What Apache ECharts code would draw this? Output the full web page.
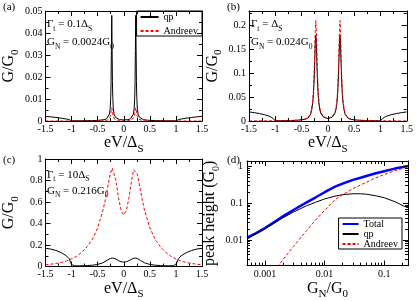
<!DOCTYPE html>
<html><head><meta charset="utf-8">
<script src="https://cdn.jsdelivr.net/npm/echarts@6/dist/echarts.min.js"></script>
<style>html,body{margin:0;padding:0;background:#fff}#c{width:416px;height:301px}</style>
</head><body><div id="c"></div>
<script>
// ---------- data ----------
const qpA = [[-1.5,0.0021],[-1.4,0.0019],[-1.3,0.0016],[-1.2,0.0013],[-1.1,0.0009],[-1.05,0.0006],[-1.0,0.0001],[-0.8,0.0001],[-0.6,0.0002],[-0.48,0.0003],[-0.38,0.0006],[-0.33,0.001],[-0.3,0.0017],[-0.275,0.0031],[-0.26,0.0056],[-0.25,0.0106],[-0.243,0.018],[-0.237,0.032],[-0.23,0.048],[-0.223,0.032],[-0.217,0.018],[-0.21,0.0106],[-0.2,0.0056],[-0.185,0.0031],[-0.16,0.0017],[-0.13,0.001],[-0.08,0.0006],[0,0.0005],[0.08,0.0006],[0.13,0.001],[0.16,0.0017],[0.185,0.0031],[0.2,0.0056],[0.21,0.0106],[0.217,0.018],[0.223,0.032],[0.23,0.048],[0.237,0.032],[0.243,0.018],[0.25,0.0106],[0.26,0.0056],[0.275,0.0031],[0.3,0.0017],[0.33,0.001],[0.38,0.0006],[0.48,0.0003],[0.6,0.0002],[0.8,0.0001],[1.0,0.0001],[1.05,0.0006],[1.1,0.0009],[1.2,0.0013],[1.3,0.0016],[1.4,0.0019],[1.5,0.0021]];
const andreevA = [[-1.5,0],[-0.6,0],[-0.38,0.0001],[-0.31,0.0004],[-0.28,0.0009],[-0.26,0.002],[-0.25,0.0032],[-0.24,0.0048],[-0.23,0.006],[-0.22,0.0048],[-0.21,0.0032],[-0.2,0.002],[-0.18,0.0009],[-0.15,0.0004],[-0.08,0.0001],[0,0.0001],[0.08,0.0001],[0.15,0.0004],[0.18,0.0009],[0.2,0.002],[0.21,0.0032],[0.22,0.0048],[0.23,0.006],[0.24,0.0048],[0.25,0.0032],[0.26,0.002],[0.28,0.0009],[0.31,0.0004],[0.38,0.0001],[0.6,0],[1.5,0]];
const qpB = [[-1.5,0.019],[-1.4,0.0175],[-1.3,0.0155],[-1.2,0.013],[-1.1,0.0095],[-1.05,0.006],[-1.0,0.0005],[-0.9,0.0006],[-0.75,0.0009],[-0.6,0.0015],[-0.5,0.0025],[-0.42,0.004],[-0.38,0.0062],[-0.33,0.0135],[-0.31,0.022],[-0.29,0.036],[-0.275,0.055],[-0.26,0.09],[-0.25,0.125],[-0.24,0.162],[-0.23,0.18],[-0.22,0.162],[-0.21,0.125],[-0.2,0.09],[-0.185,0.055],[-0.17,0.036],[-0.15,0.022],[-0.13,0.015],[-0.08,0.008],[0,0.005],[0.08,0.008],[0.13,0.015],[0.15,0.022],[0.17,0.036],[0.185,0.055],[0.2,0.09],[0.21,0.125],[0.22,0.162],[0.23,0.18],[0.24,0.162],[0.25,0.125],[0.26,0.09],[0.275,0.055],[0.29,0.036],[0.31,0.022],[0.33,0.0135],[0.38,0.0062],[0.42,0.004],[0.5,0.0025],[0.6,0.0015],[0.75,0.0009],[0.9,0.0006],[1.0,0.0005],[1.05,0.006],[1.1,0.0095],[1.2,0.013],[1.3,0.0155],[1.4,0.0175],[1.5,0.019]];
const andreevB = [[-1.5,0.0002],[-1.2,0.0003],[-0.9,0.0006],[-0.75,0.0009],[-0.6,0.0016],[-0.5,0.0027],[-0.42,0.0045],[-0.38,0.007],[-0.33,0.015],[-0.31,0.025],[-0.29,0.041],[-0.275,0.063],[-0.26,0.104],[-0.25,0.145],[-0.24,0.19],[-0.23,0.21],[-0.22,0.19],[-0.21,0.145],[-0.2,0.104],[-0.185,0.063],[-0.17,0.041],[-0.15,0.025],[-0.13,0.017],[-0.08,0.009],[0,0.0055],[0.08,0.009],[0.13,0.017],[0.15,0.025],[0.17,0.041],[0.185,0.063],[0.2,0.104],[0.21,0.145],[0.22,0.19],[0.23,0.21],[0.24,0.19],[0.25,0.145],[0.26,0.104],[0.275,0.063],[0.29,0.041],[0.31,0.025],[0.33,0.015],[0.38,0.007],[0.42,0.0045],[0.5,0.0027],[0.6,0.0016],[0.75,0.0009],[0.9,0.0006],[1.2,0.0003],[1.5,0.0002]];
const qpC = [[-1.5,0.17],[-1.4,0.163],[-1.3,0.15],[-1.2,0.13],[-1.1,0.1],[-1.05,0.075],[-1.0,0.02],[-0.95,0.008],[-0.85,0.007],[-0.7,0.01],[-0.6,0.013],[-0.5,0.02],[-0.4,0.035],[-0.32,0.058],[-0.26,0.075],[-0.22,0.08],[-0.17,0.074],[-0.1,0.055],[-0.05,0.045],[0,0.042],[0.05,0.045],[0.1,0.055],[0.17,0.074],[0.22,0.08],[0.26,0.075],[0.32,0.058],[0.4,0.035],[0.5,0.02],[0.6,0.013],[0.7,0.01],[0.85,0.007],[0.95,0.008],[1.0,0.02],[1.05,0.075],[1.1,0.1],[1.2,0.13],[1.3,0.15],[1.4,0.163],[1.5,0.17]];
const andreevC = [[-1.5,0.017],[-1.4,0.022],[-1.3,0.029],[-1.2,0.038],[-1.1,0.052],[-1.0,0.072],[-0.9,0.097],[-0.8,0.135],[-0.7,0.185],[-0.6,0.255],[-0.5,0.36],[-0.4,0.52],[-0.35,0.63],[-0.3,0.76],[-0.26,0.86],[-0.22,0.915],[-0.19,0.9],[-0.15,0.8],[-0.1,0.64],[-0.05,0.52],[0,0.48],[0.05,0.52],[0.1,0.64],[0.15,0.8],[0.19,0.9],[0.22,0.915],[0.26,0.86],[0.3,0.76],[0.35,0.63],[0.4,0.52],[0.5,0.36],[0.6,0.255],[0.7,0.185],[0.8,0.135],[0.9,0.097],[1.0,0.072],[1.1,0.052],[1.2,0.038],[1.3,0.029],[1.4,0.022],[1.5,0.017]];
const gnD = [0.0005,0.0007,0.001,0.0015,0.002,0.003,0.005,0.007,0.01,0.015,0.02,0.03,0.04,0.05,0.07,0.1,0.15,0.216,0.25];
const totalD = [0.0115,0.015,0.021,0.032,0.0436,0.065,0.105,0.142,0.198,0.28,0.34,0.43,0.49,0.545,0.64,0.74,0.87,0.98,1.02];
const qpD = [0.0105,0.0145,0.02,0.03,0.04,0.057,0.085,0.105,0.13,0.155,0.17,0.18,0.18,0.175,0.16,0.14,0.11,0.082,0.075];
const andreevD = [0.00023,0.00045,0.0009,0.0016,0.0029,0.0066,0.018,0.034,0.064,0.125,0.17,0.25,0.31,0.37,0.48,0.6,0.76,0.9,0.95];
const dXTicks = [0.001,0.01,0.1];
const dXMinor = [0.0006,0.0007,0.0008,0.0009,0.002,0.003,0.004,0.005,0.006,0.007,0.008,0.009,0.02,0.03,0.04,0.05,0.06,0.07,0.08,0.09,0.2];
const dYTicks = [0.01,0.1,1];
const dYMinor = [0.003,0.004,0.005,0.006,0.007,0.008,0.009,0.02,0.03,0.04,0.05,0.06,0.07,0.08,0.09,0.2,0.3,0.4,0.5,0.6,0.7,0.8,0.9];

// ---------- styling ----------
const serif = '"Liberation Serif","Times New Roman",serif';
const BLACK = '#000', RED = '#ff0000', BLUE = '#0000ff';
function rich(big, small, lh, slh) {
  return {
    n: {fontFamily: serif, fontSize: big, color: BLACK, lineHeight: lh || Math.round(big * 1.45)},
    s: {fontFamily: serif, fontSize: small, color: BLACK, lineHeight: slh || (small + 1), verticalAlign: 'bottom'}
  };
}
const ls = {color: BLACK, width: 1};
function linAxis(g, dim, pos, min, max, interval, opts) {
  const main = (pos === 'bottom' || pos === 'left');
  const a = {
    gridIndex: g, type: 'value', position: pos, min: min, max: max, interval: interval, z: 5,
    axisLine: {show: true, onZero: false, lineStyle: ls},
    axisTick: {show: true, inside: true, length: 5, lineStyle: ls},
    minorTick: {show: true, splitNumber: 2, length: 3, lineStyle: ls},
    splitLine: {show: false},
    axisLabel: {show: main, color: BLACK, fontFamily: serif, fontSize: 10, margin: 3}
  };
  return Object.assign(a, opts || {});
}
function logAxis(g, pos, min, max, ticks, isMinor, opts) {
  const main = (pos === 'bottom' || pos === 'left') && !isMinor;
  const a = {
    gridIndex: g, type: 'log', logBase: 10, position: pos, min: min, max: max, z: 5,
    axisLine: {show: !isMinor, onZero: false, lineStyle: ls},
    axisTick: {show: true, inside: true, length: isMinor ? 3 : 5, lineStyle: ls, customValues: ticks},
    minorTick: {show: false},
    splitLine: {show: false},
    axisLabel: {show: main, color: BLACK, fontFamily: serif, fontSize: 10, margin: 4, customValues: ticks}
  };
  return Object.assign(a, opts || {});
}
const eVName = {name: '{n|eV/Δ}{s|S}', nameLocation: 'middle', nameGap: 7, nameTextStyle: {rich: rich(16, 11)}};
const GName = {name: '{n|G/G}{s|0}', nameLocation: 'middle', nameGap: 25, nameTextStyle: {rich: rich(16, 11)}};

const xAxis = [
  linAxis(0, 'x', 'bottom', -1.5, 1.5, 0.5, eVName),
  linAxis(0, 'x', 'top', -1.5, 1.5, 0.5),
  linAxis(1, 'x', 'bottom', -1.5, 1.5, 0.5, eVName),
  linAxis(1, 'x', 'top', -1.5, 1.5, 0.5),
  linAxis(2, 'x', 'bottom', -1.5, 1.5, 0.5, eVName),
  linAxis(2, 'x', 'top', -1.5, 1.5, 0.5),
  logAxis(3, 'bottom', 0.0005, 0.25, dXTicks, false, {name: '{n|G}{s|N}{n|/G}{s|0}', nameLocation: 'middle', nameGap: 7, nameTextStyle: {rich: rich(16, 11)}}),
  logAxis(3, 'bottom', 0.0005, 0.25, dXMinor, true),
  logAxis(3, 'top', 0.0005, 0.25, dXTicks, false),
  logAxis(3, 'top', 0.0005, 0.25, dXMinor, true)
];
const yAxis = [
  linAxis(0, 'y', 'left', 0, 0.05, 0.01, GName),
  linAxis(0, 'y', 'right', 0, 0.05, 0.01),
  linAxis(1, 'y', 'left', 0, 0.23, 0.05, Object.assign({}, GName)),
  linAxis(1, 'y', 'right', 0, 0.23, 0.05),
  linAxis(2, 'y', 'left', 0, 1, 0.2, GName),
  linAxis(2, 'y', 'right', 0, 1, 0.2),
  logAxis(3, 'left', 0.002, 1.4, dYTicks, false, {name: '{n|peak height (G}{s|0}{n|)}', nameLocation: 'middle', nameGap: 26, nameTextStyle: {rich: rich(16, 10)}}),
  logAxis(3, 'left', 0.002, 1.4, dYMinor, true),
  logAxis(3, 'right', 0.002, 1.4, dYTicks, false),
  logAxis(3, 'right', 0.002, 1.4, dYMinor, true)
];
yAxis[2].axisLabel.showMaxLabel = false;

function line(name, data, xi, yi, color, dashed, width) {
  return {
    name: name, type: 'line', data: data, xAxisIndex: xi, yAxisIndex: yi,
    showSymbol: false, symbol: 'none', smooth: false, z: 2,
    lineStyle: {color: color, width: width || 1, type: dashed ? [3, 2] : 'solid'},
    itemStyle: {color: color}
  };
}
const zip = (xs, ys) => xs.map((x, i) => [x, ys[i]]);
const series = [
  line('qp', qpA, 0, 0, BLACK, false),
  line('Andreev', andreevA, 0, 0, RED, true),
  line('qp', qpB, 2, 2, BLACK, false),
  line('Andreev', andreevB, 2, 2, RED, true),
  line('qp', qpC, 4, 4, BLACK, false),
  line('Andreev', andreevC, 4, 4, RED, true),
  line('Total', zip(gnD, totalD), 6, 6, BLUE, false, 2.5),
  line('qp', zip(gnD, qpD), 6, 6, BLACK, false),
  line('Andreev', zip(gnD, andreevD), 6, 6, RED, true)
];

const legendBase = {
  orient: 'vertical', selectedMode: false, itemHeight: 8,
  itemStyle: {opacity: 0, borderWidth: 0},
  borderColor: BLACK, borderWidth: 1, borderRadius: 0, backgroundColor: '#fff',
  textStyle: {fontFamily: serif, fontSize: 10, color: BLACK, lineHeight: 10}
};
const legend = [
  Object.assign({}, legendBase, {data: ['qp', 'Andreev'], right: 214, top: 11, itemWidth: 18, itemGap: 4, padding: [1, 4, 0, 3]}),
  Object.assign({}, legendBase, {data: ['Total', 'qp', 'Andreev'], right: 14, top: 218, itemWidth: 16, itemGap: 0, padding: [1, 4, 0, 3]})
];

// two-line annotation blocks (rich text), placed by their top-left corner
function block(x, y, s, lh) {
  return {type: 'text', x: x, y: y, z: 10,
    style: {text: s, rich: rich(11, 7.5, lh, lh - 6), verticalAlign: 'top', align: 'left'}};
}
function label(x, y, s) {
  return {type: 'text', x: x, y: y, z: 10, style: {text: s, font: '11px ' + serif, fill: BLACK, verticalAlign: 'middle', align: 'left'}};
}
const graphic = [
  label(3, 7, '(a)'),
  label(227, 7, '(b)'),
  label(3, 160, '(c)'),
  label(227, 160, '(d)'),
  block(47, 15, '{n|Γ}{s|t}{n| = 0.1Δ}{s|S}\n{n|G}{s|N}{n| = 0.0024G}{s|0}', 18),
  block(251, 15, '{n|Γ}{s|t}{n| = Δ}{s|S}\n{n|G}{s|N}{n| = 0.024G}{s|0}', 18),
  block(47, 167, '{n|Γ}{s|t}{n| = 10Δ}{s|S}\n{n|G}{s|N}{n| = 0.216G}{s|0}', 16)
];

const chart = echarts.init(document.getElementById('c'), null, {renderer: 'canvas'});
chart.setOption({
  animation: false,
  backgroundColor: '#fff',
  grid: [
    {left: 45, top: 11, width: 157, height: 110},
    {left: 249, top: 11, width: 159, height: 110},
    {left: 45, top: 159, width: 157, height: 110},
    {left: 247, top: 161, width: 161, height: 108}
  ],
  legend: legend,
  xAxis: xAxis,
  yAxis: yAxis,
  series: series,
  graphic: graphic
});
</script></body></html>
